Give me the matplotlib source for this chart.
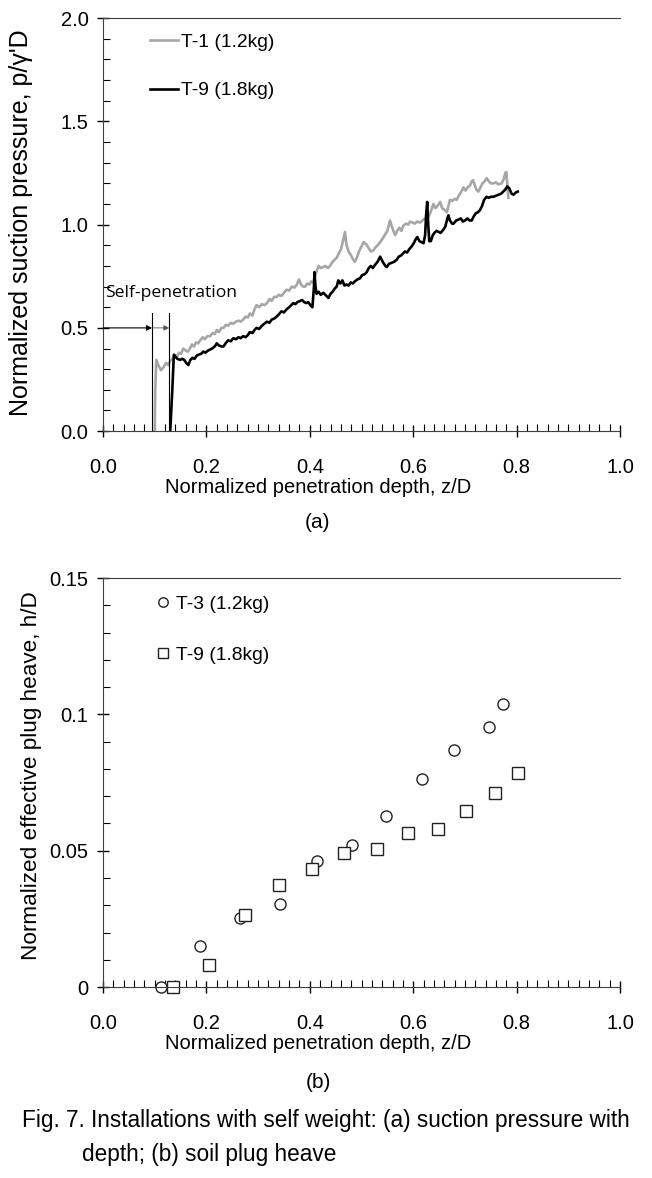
import matplotlib
matplotlib.use("Agg")
import matplotlib.pyplot as plt
from matplotlib.ticker import MultipleLocator, FuncFormatter

# ---------------- data ----------------
# (a) suction pressure vs depth
t1_z = [0.100, 0.101, 0.103, 0.107, 0.112, 0.117, 0.122, 0.126, 0.130, 0.134, 0.139, 0.143,
        0.147, 0.151, 0.155, 0.160, 0.164, 0.168, 0.172, 0.176, 0.180, 0.184, 0.188, 0.193,
        0.197, 0.202, 0.207, 0.212, 0.216, 0.220, 0.224, 0.229, 0.233, 0.238, 0.242, 0.247,
        0.252, 0.257, 0.262, 0.266, 0.271, 0.276, 0.280, 0.284, 0.289, 0.293, 0.297, 0.302,
        0.307, 0.312, 0.317, 0.322, 0.326, 0.331, 0.336, 0.340, 0.345, 0.350, 0.355, 0.360,
        0.365, 0.370, 0.375, 0.379, 0.383, 0.387, 0.391, 0.395, 0.399, 0.403, 0.407, 0.411,
        0.414, 0.417, 0.421, 0.426, 0.430, 0.435, 0.439, 0.444, 0.448, 0.452, 0.456, 0.460,
        0.464, 0.468, 0.471, 0.475, 0.480, 0.484, 0.487, 0.491, 0.495, 0.499, 0.504, 0.509,
        0.513, 0.518, 0.523, 0.527, 0.531, 0.536, 0.540, 0.545, 0.550, 0.555, 0.560, 0.565,
        0.569, 0.573, 0.577, 0.581, 0.586, 0.590, 0.594, 0.599, 0.603, 0.608, 0.613, 0.618,
        0.622, 0.626, 0.630, 0.635, 0.639, 0.643, 0.648, 0.652, 0.656, 0.661, 0.665, 0.668,
        0.671, 0.676, 0.680, 0.684, 0.688, 0.692, 0.697, 0.701, 0.705, 0.710, 0.713, 0.716,
        0.719, 0.722, 0.726, 0.730, 0.734, 0.738, 0.742, 0.746, 0.750, 0.755, 0.760, 0.765,
        0.771, 0.775, 0.778, 0.780, 0.782, 0.784]
t1_p = [0.00, 0.20, 0.345, 0.32, 0.295, 0.31, 0.33, 0.32, 0.34, 0.35, 0.37, 0.36,
        0.38, 0.375, 0.40, 0.39, 0.385, 0.40, 0.42, 0.41, 0.43, 0.425, 0.44, 0.455,
        0.445, 0.46, 0.46, 0.475, 0.47, 0.49, 0.48, 0.50, 0.50, 0.515, 0.51, 0.525,
        0.52, 0.53, 0.535, 0.53, 0.54, 0.555, 0.55, 0.57, 0.56, 0.59, 0.61, 0.60,
        0.615, 0.61, 0.62, 0.64, 0.63, 0.65, 0.65, 0.66, 0.655, 0.67, 0.685, 0.68,
        0.70, 0.695, 0.71, 0.735, 0.71, 0.70, 0.70, 0.715, 0.71, 0.725, 0.72, 0.76,
        0.78, 0.80, 0.79, 0.795, 0.80, 0.79, 0.80, 0.82, 0.83, 0.84, 0.86, 0.88,
        0.92, 0.965, 0.90, 0.87, 0.85, 0.83, 0.82, 0.84, 0.87, 0.89, 0.915, 0.905,
        0.89, 0.87, 0.875, 0.89, 0.90, 0.915, 0.93, 0.95, 0.97, 1.02, 0.98, 0.95,
        0.97, 0.985, 0.97, 0.995, 1.005, 1.00, 1.015, 1.01, 1.005, 1.015, 1.01, 1.02,
        1.03, 1.035, 1.04, 1.07, 1.10, 1.08, 1.095, 1.11, 1.08, 1.07, 1.06, 1.09,
        1.12, 1.115, 1.125, 1.12, 1.14, 1.155, 1.18, 1.165, 1.18, 1.19, 1.21, 1.215,
        1.19, 1.17, 1.16, 1.18, 1.20, 1.21, 1.225, 1.21, 1.20, 1.20, 1.205, 1.195,
        1.20, 1.22, 1.25, 1.255, 1.19, 1.13]

t9_z = [0.130, 0.134, 0.137, 0.140, 0.144, 0.149, 0.153, 0.157, 0.161, 0.165, 0.169, 0.173,
        0.177, 0.181, 0.185, 0.190, 0.194, 0.198, 0.203, 0.207, 0.211, 0.216, 0.220, 0.224,
        0.229, 0.233, 0.237, 0.242, 0.247, 0.252, 0.257, 0.262, 0.266, 0.271, 0.276, 0.280,
        0.284, 0.289, 0.293, 0.297, 0.302, 0.307, 0.312, 0.317, 0.322, 0.326, 0.331, 0.336,
        0.340, 0.345, 0.350, 0.355, 0.360, 0.364, 0.368, 0.372, 0.376, 0.381, 0.385, 0.389,
        0.393, 0.397, 0.401, 0.405, 0.408, 0.409, 0.411, 0.413, 0.417, 0.421, 0.426, 0.430,
        0.434, 0.436, 0.440, 0.444, 0.448, 0.452, 0.455, 0.459, 0.463, 0.467, 0.471, 0.475,
        0.479, 0.483, 0.487, 0.492, 0.497, 0.501, 0.506, 0.510, 0.514, 0.518, 0.522, 0.526,
        0.531, 0.536, 0.541, 0.546, 0.549, 0.553, 0.558, 0.563, 0.568, 0.572, 0.576, 0.580,
        0.584, 0.588, 0.592, 0.597, 0.601, 0.605, 0.608, 0.612, 0.616, 0.620, 0.623, 0.625,
        0.627, 0.629, 0.631, 0.634, 0.638, 0.641, 0.645, 0.649, 0.653, 0.658, 0.662, 0.666,
        0.668, 0.671, 0.675, 0.678, 0.683, 0.688, 0.692, 0.696, 0.700, 0.705, 0.709, 0.713,
        0.717, 0.721, 0.725, 0.729, 0.733, 0.737, 0.742, 0.746, 0.750, 0.755, 0.760, 0.765,
        0.770, 0.774, 0.778, 0.782, 0.786, 0.790, 0.794, 0.798, 0.802]
t9_p = [0.00, 0.20, 0.37, 0.36, 0.35, 0.345, 0.35, 0.345, 0.33, 0.32, 0.345, 0.355,
        0.35, 0.365, 0.37, 0.375, 0.385, 0.38, 0.39, 0.395, 0.40, 0.41, 0.425, 0.415,
        0.41, 0.41, 0.425, 0.44, 0.435, 0.45, 0.445, 0.455, 0.45, 0.46, 0.455, 0.465,
        0.48, 0.475, 0.49, 0.50, 0.495, 0.51, 0.52, 0.53, 0.525, 0.54, 0.545, 0.555,
        0.565, 0.58, 0.575, 0.59, 0.60, 0.61, 0.62, 0.615, 0.625, 0.63, 0.635, 0.625,
        0.62, 0.625, 0.61, 0.60, 0.70, 0.77, 0.70, 0.665, 0.675, 0.66, 0.67, 0.66,
        0.65, 0.645, 0.665, 0.675, 0.69, 0.70, 0.73, 0.715, 0.73, 0.705, 0.71, 0.705,
        0.72, 0.715, 0.725, 0.735, 0.74, 0.755, 0.76, 0.77, 0.79, 0.80, 0.79, 0.805,
        0.82, 0.845, 0.82, 0.80, 0.795, 0.81, 0.815, 0.82, 0.83, 0.845, 0.85, 0.86,
        0.87, 0.865, 0.88, 0.895, 0.91, 0.93, 0.94, 0.92, 0.915, 0.91, 0.95, 1.05,
        1.11, 1.00, 0.92, 0.92, 0.95, 0.96, 0.97, 0.965, 0.96, 0.975, 0.99, 1.03,
        1.045, 1.02, 1.005, 1.005, 1.02, 1.025, 1.03, 1.015, 1.02, 1.03, 1.02, 1.02,
        1.04, 1.055, 1.06, 1.07, 1.09, 1.12, 1.135, 1.13, 1.135, 1.135, 1.14, 1.145,
        1.15, 1.16, 1.17, 1.185, 1.175, 1.15, 1.145, 1.155, 1.16]

# self-penetration limits (z/D)
self_pen = [0.095, 0.128]

# (b) plug heave vs depth
t3_z = [0.112, 0.188, 0.265, 0.342, 0.414, 0.482, 0.548, 0.616, 0.679, 0.747, 0.774]
t3_h = [0.0, 0.0151, 0.0254, 0.0306, 0.0462, 0.0521, 0.0628, 0.0762, 0.0870, 0.0955, 0.1038]
t9b_z = [0.136, 0.205, 0.274, 0.340, 0.404, 0.467, 0.529, 0.589, 0.647, 0.703, 0.758, 0.803]
t9b_h = [0.0, 0.0081, 0.0264, 0.0374, 0.0434, 0.0493, 0.0505, 0.0566, 0.0580, 0.0645, 0.0711, 0.0784]

# ---------------- figure ----------------
plt.rcParams["font.family"] = ["Liberation Sans", "DejaVu Sans"]
fig = plt.figure(figsize=(6.52, 11.78), dpi=100)
ax1 = fig.add_axes([0.158, 0.634, 0.793, 0.3506])
ax2 = fig.add_axes([0.158, 0.1621, 0.793, 0.3472])


def style_axes(ax):
    ax.spines["right"].set_visible(False)
    ax.set_xlim(0, 1.0)
    ax.xaxis.set_major_locator(MultipleLocator(0.2))
    ax.xaxis.set_minor_locator(MultipleLocator(0.02))
    ax.xaxis.set_major_formatter(FuncFormatter(lambda v, p: f"{v:.1f}"))
    ax.tick_params(which="major", direction="inout", length=9, width=1, labelsize=14.5, pad=6)
    ax.tick_params(which="minor", direction="in", length=5, width=0.8)
    ax.tick_params(axis="x", which="major", pad=15)
    for s in ["left", "bottom", "top"]:
        ax.spines[s].set_color("#404040")
    ax.set_xlabel("Normalized penetration depth, z/D", fontsize=14.5)


# ---- (a) ----
ax1.plot(t1_z, t1_p, color="#a6a6a6", lw=1.9, label="T-1 (1.2kg)")
ax1.plot(t9_z, t9_p, color="black", lw=1.9, label="T-9 (1.8kg)")
ax1.set_ylim(0, 2.0)
ax1.yaxis.set_major_locator(MultipleLocator(0.5))
ax1.yaxis.set_minor_locator(MultipleLocator(0.1))
style_axes(ax1)
ax1.set_ylabel("Normalized suction pressure, p/\u03b3'D", fontsize=18)
ax1.yaxis.set_label_coords(-0.135, 0.505)
ax1.xaxis.set_label_coords(0.416, -0.113)

# self-penetration annotation
for z in self_pen:
    ax1.plot([z, z], [0, 0.57], color="black", lw=0.8)
ax1.annotate("", xy=(self_pen[0], 0.5), xytext=(0, 0.5),
             arrowprops=dict(arrowstyle="-|>", lw=0.8, color="black", mutation_scale=8,
                             shrinkA=0, shrinkB=0))
ax1.annotate("", xy=(self_pen[1], 0.5), xytext=(self_pen[0], 0.5),
             arrowprops=dict(arrowstyle="-|>", lw=0.6, color="#555555", mutation_scale=8,
                             shrinkA=0, shrinkB=0))
ax1.text(0.004, 0.67, "Self-penetration", fontsize=12.6, family=["Open Sans", "DejaVu Sans"],
         va="center", ha="left")

ax1.legend(loc="upper left", bbox_to_anchor=(0.058, 1.005), frameon=False, fontsize=13.9,
           handlelength=1.45, handletextpad=0.15, labelspacing=1.6)

# ---- (b) ----
ax2.plot(t3_z, t3_h, "o", ms=8, mfc="white", mec="#222222", mew=1.0, clip_on=False,
         label="T-3 (1.2kg)")
ax2.plot(t9b_z, t9b_h, "s", ms=8, mfc="white", mec="#222222", mew=1.0, clip_on=False,
         label="T-9 (1.8kg)")
ax2.set_ylim(0, 0.15)
ax2.yaxis.set_major_locator(MultipleLocator(0.05))
ax2.yaxis.set_minor_locator(MultipleLocator(0.01))
ax2.yaxis.set_major_formatter(FuncFormatter(lambda v, p: f"{v:g}"))
style_axes(ax2)
ax2.set_ylabel("Normalized effective plug heave, h/D", fontsize=16.2)
ax2.yaxis.set_label_coords(-0.118, 0.517)
ax2.xaxis.set_label_coords(0.416, -0.116)
ax2.legend(loc="upper left", bbox_to_anchor=(0.067, 1.0), frameon=False, fontsize=13.9,
           handlelength=0.8, handletextpad=0.3, labelspacing=1.75, markerscale=0.85)

# ---- captions ----
cap_font = ["Liberation Sans", "DejaVu Sans"]
fig.text(0.4877, 1 - 523 / 1178, "(a)", ha="center", va="center", fontsize=15, family=cap_font)
fig.text(0.4877, 1 - 1082 / 1178, "(b)", ha="center", va="center", fontsize=15, family=cap_font)
cap1 = fig.text(22 / 652, 1 - 1120 / 1178,
                "Fig. 7. Installations with self weight: (a) suction pressure with",
                ha="left", va="center", fontsize=14.5, family=cap_font)
cap2 = fig.text(82 / 652, 1 - 1155 / 1178, "depth; (b) soil plug heave",
                ha="left", va="center", fontsize=14.5, family=cap_font)

# stretch the first caption line to the full text width (610 px), like the justified original
renderer = fig.canvas.get_renderer()
w = cap1.get_window_extent(renderer).width
if w > 0:
    cap1.set_fontsize(14.5 * 610 / w)
    cap2.set_fontsize(14.5 * 610 / w)

fig.savefig("out.png", dpi=100)
